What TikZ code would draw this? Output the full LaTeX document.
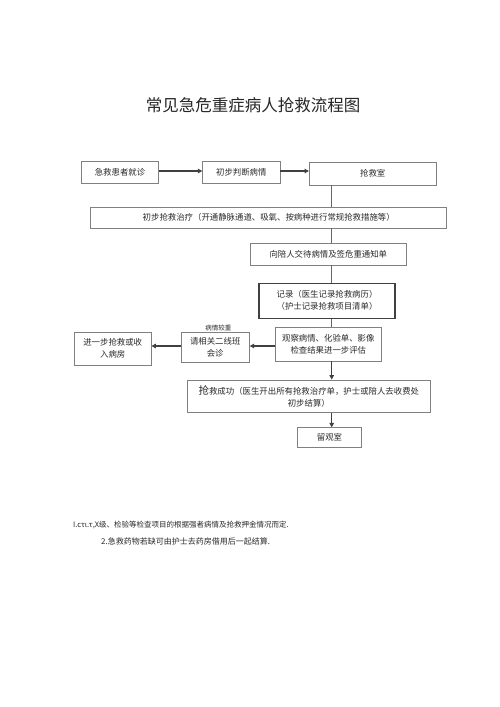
\documentclass[tikz,border=0pt]{standalone}
\usepackage{fontspec}
\setmainfont{Noto Sans CJK SC}
\usetikzlibrary{arrows.meta}
\definecolor{boxline}{HTML}{808080}
\definecolor{darkline}{HTML}{404040}
\definecolor{txt}{HTML}{2A2A2A}
\tikzset{
  box/.style={draw=boxline, line width=0.7pt, inner sep=0pt, align=center,
    text=txt, font=\fontsize{8.4}{12}\selectfont},
  boldbox/.style={box, draw=darkline, line width=1.1pt},
  link/.style={draw=darkline!80, line width=1pt},
  arr/.style={draw=darkline, line width=1.3pt, -{Triangle[length=4.5pt,width=4.5pt]}},
  note/.style={text=txt, inner sep=0pt, anchor=west}
}
\begin{document}
\begin{tikzpicture}[x=1pt,y=-1pt]
\useasboundingbox (0,0) rectangle (500,707);
\fill[white] (0,0) rectangle (500,707);

\node[text=black!85, font=\fontsize{16.5}{18}\selectfont, inner sep=0pt] (title) at (253,105) {常见急危重症病人抢救流程图};

\node[box, minimum width=76.6pt, minimum height=21.6pt] (jz) at (120,172.5) {急救患者就诊};
\node[box, minimum width=77.3pt, minimum height=21.8pt] (pd) at (241.3,172.6) {初步判断病情};
\node[box, minimum width=126.7pt, minimum height=22.7pt] (qjs) at (372.7,173.7) {抢救室};
\node[box, minimum width=356pt, minimum height=20.5pt] (zl) at (268.7,217.8) {初步抢救治疗（开通静脉通道、吸氧、按病种进行常规抢救措施等）};
\node[box, minimum width=156.7pt, minimum height=21.7pt] (jd) at (328.3,254.2) {向陪人交待病情及签危重通知单};
\node[boldbox, minimum width=136pt, minimum height=35.3pt] (jl) at (327,300.7) {记录（医生记录抢救病历）\\（护士记录抢救项目清单）};
\node[box, minimum width=106.7pt, minimum height=34pt] (gc) at (328.3,344) {观察病情、化验单、影像\\检查结果进一步评估};
\node[box, minimum width=68.3pt, minimum height=30pt] (hz) at (215.2,347.3) {请相关二线班\\会诊};
\node[text=txt, font=\fontsize{6.5}{7}\selectfont, inner sep=0pt] (bqjz) at (218.3,328.3) {病情较重};
\node[box, minimum width=76.7pt, minimum height=32.7pt] (jy) at (112.7,348.7) {进一步抢救或收\\入病房};
\node[box, minimum width=242.3pt, minimum height=32.7pt] (cg) at (308.8,396.3) {{\fontsize{10.5}{12}\selectfont 抢}救成功（医生开出所有抢救治疗单，护士或陪人去收费处\\初步结算）};
\node[box, minimum width=64.4pt, minimum height=20pt] (lg) at (329.5,437.7) {留观室};

\coordinate (vx) at (331.7,0);
\coordinate (hy) at (0,346);
\coordinate (ty) at (0,171);

\draw[arr] (jz.east |- ty) -- (pd.west |- ty);
\draw[arr] (pd.east |- ty) -- (qjs.west |- ty);
\draw[link] (qjs.south -| vx) -- (zl.north -| vx);
\draw[link] (zl.south -| vx) -- (jd.north -| vx);
\draw[link] (jd.south -| vx) -- (jl.north -| vx);
\draw[link] (jl.south -| vx) -- (gc.north -| vx);
\draw[arr] (gc.west |- hy) -- (hz.east |- hy);
\draw[arr] (hz.west |- hy) -- (jy.east |- hy);
\draw[arr] (gc.south -| vx) -- (cg.north -| vx);
\draw[arr] (cg.south -| vx) -- (lg.north -| vx);

\node[note, font=\fontsize{7.5}{9}\selectfont] (n1) at (73,525) {I.cτι.τ,X级、检验等检查项目的根据强者病情及抢救押金情况而定.};
\node[note, font=\fontsize{8}{9}\selectfont] (n2) at (101,541.7) {2.急救药物若缺可由护士去药房借用后一起结算.};
\end{tikzpicture}
\end{document}
